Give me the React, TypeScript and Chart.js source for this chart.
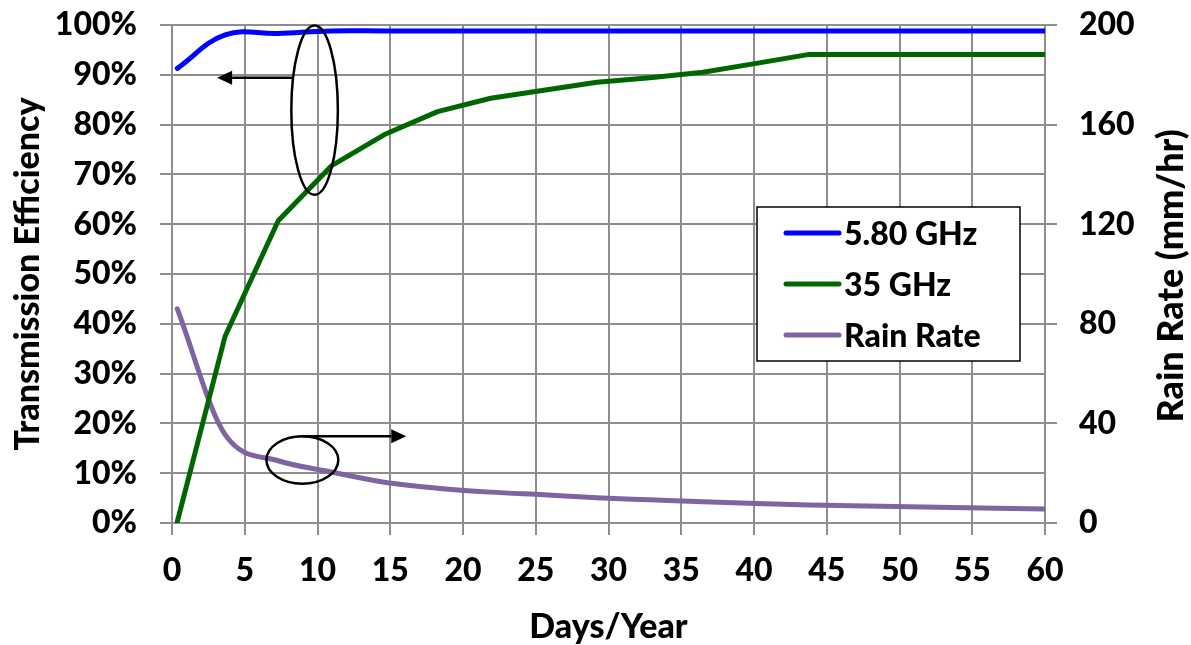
import React, { useEffect, useRef } from 'react';
import { Chart, registerables } from 'chart.js';

Chart.register(...registerables);

// ---- data (days per year of exceedance) ----
const daysPerYear = [0.365, 3.65, 7.3, 10.95, 14.6, 18.25, 21.9, 25.55, 29.2, 32.85, 36.5, 40.15, 43.8, 60];
const eff580GHz = [91.3, 98.0, 98.3, 98.8, 98.8, 98.8, 98.8, 98.8, 98.8, 98.8, 98.8, 98.8, 98.8, 98.8];
const eff35GHz = [0.3, 37.5, 60.7, 71.7, 78.0, 82.6, 85.3, 86.9, 88.5, 89.4, 90.5, 92.3, 94.1, 94.1];
const rainRate = [86, 35.5, 25, 20.5, 16.4, 14.0, 12.4, 11.3, 10.1, 9.3, 8.5, 7.8, 7.25, 5.6];

const xTickValues = [0, 5, 10, 15, 20, 25, 30, 35, 40, 45, 50, 55, 60];
const leftTickValues = [0, 10, 20, 30, 40, 50, 60, 70, 80, 90, 100];
const rightTickValues = [0, 40, 80, 120, 160, 200];

const seriesLabels = ['5.80 GHz', '35 GHz', 'Rain Rate'];
const seriesColors = ['#0000FF', '#006600', '#8064A2'];
const rightAxisTitle = 'Rain Rate (mm/hr)';

// annotation shapes in data units (x: days, y: % on left axis)
const ellipses = [
  { cx: 9.8, cy: 82.9, rx: 1.6, ry: 17 },
  { cx: 8.96, cy: 12.65, rx: 2.47, ry: 4.76 },
];
const arrows = [
  { x1: 8.3, y1: 89.4, x2: 3.1, y2: 89.4 },
  { x1: 8.96, y1: 17.4, x2: 16.1, y2: 17.4 },
];

const FONT = 'Lato, "Open Sans", sans-serif';
const WEIGHT = 900;
const GRID = '#8e8e8e';

const annotationPlugin = {
  id: 'annotShapes',
  afterDatasetsDraw(chart: any) {
    const { ctx } = chart;
    const x = chart.scales.x;
    const y = chart.scales.y;
    ctx.save();
    ctx.strokeStyle = '#000';
    ctx.fillStyle = '#000';
    ctx.lineWidth = 2.5;
    ellipses.forEach((e) => {
      const cx = x.getPixelForValue(e.cx);
      const cy = y.getPixelForValue(e.cy);
      const rx = Math.abs(x.getPixelForValue(e.cx + e.rx) - cx);
      const ry = Math.abs(y.getPixelForValue(e.cy + e.ry) - cy);
      ctx.beginPath();
      ctx.ellipse(cx, cy, rx, ry, 0, 0, Math.PI * 2);
      ctx.stroke();
    });
    arrows.forEach((a) => {
      const x1 = x.getPixelForValue(a.x1);
      const y1 = y.getPixelForValue(a.y1);
      const x2 = x.getPixelForValue(a.x2);
      const y2 = y.getPixelForValue(a.y2);
      const ang = Math.atan2(y2 - y1, x2 - x1);
      const hl = 15;
      const hw = 7;
      const bx = x2 - Math.cos(ang) * hl;
      const by = y2 - Math.sin(ang) * hl;
      ctx.beginPath();
      ctx.moveTo(x1, y1);
      ctx.lineTo(bx, by);
      ctx.stroke();
      ctx.beginPath();
      ctx.moveTo(x2, y2);
      ctx.lineTo(bx - Math.sin(ang) * hw, by + Math.cos(ang) * hw);
      ctx.lineTo(bx + Math.sin(ang) * hw, by - Math.cos(ang) * hw);
      ctx.closePath();
      ctx.fill();
    });
    ctx.restore();
  },
};

const boxLegendPlugin = {
  id: 'boxLegend',
  afterDraw(chart: any) {
    const { ctx, chartArea } = chart;
    const left = chartArea.left + 585;
    const top = chartArea.top + 182;
    const w = 263;
    const h = 154;
    ctx.save();
    ctx.fillStyle = '#fff';
    ctx.fillRect(left, top, w, h);
    ctx.strokeStyle = '#000';
    ctx.lineWidth = 1.5;
    ctx.strokeRect(left, top, w, h);
    ctx.font = `${WEIGHT} 32px ${FONT}`;
    ctx.textBaseline = 'middle';
    ctx.textAlign = 'left';
    chart.data.datasets.forEach((ds: any, i: number) => {
      const yy = top + 26 + i * 51;
      ctx.strokeStyle = ds.borderColor;
      ctx.lineWidth = 5;
      ctx.lineCap = 'round';
      ctx.beginPath();
      ctx.moveTo(left + 29, yy);
      ctx.lineTo(left + 82, yy);
      ctx.stroke();
      ctx.fillStyle = '#000';
      ctx.fillText(ds.label, left + 87, yy + 2);
    });
    // right axis title, reading bottom-to-top like the left one
    ctx.translate(chart.width - 20, (chartArea.top + chartArea.bottom) / 2 + 2);
    ctx.rotate(-Math.PI / 2);
    ctx.font = `${WEIGHT} 36px ${FONT}`;
    ctx.textAlign = 'center';
    ctx.fillStyle = '#000';
    ctx.fillText(rightAxisTitle, 0, 0);
    ctx.restore();
  },
};

export default function App() {
  const ref = useRef<HTMLCanvasElement | null>(null);
  useEffect(() => {
    if (!ref.current) return;
    const tickFont = { family: FONT, weight: WEIGHT as any, size: 32, lineHeight: 1.2 };
    const titleFont = { family: FONT, weight: WEIGHT as any, size: 34, lineHeight: 1 };
    const series = [eff580GHz, eff35GHz, rainRate];
    const chart = new Chart(ref.current, {
      type: 'line',
      data: {
        datasets: series.map((vals, i) => ({
          label: seriesLabels[i],
          data: daysPerYear.map((d, j) => ({ x: d, y: vals[j] })),
          borderColor: seriesColors[i],
          backgroundColor: seriesColors[i],
          borderWidth: 5,
          pointRadius: 0,
          fill: false,
          borderCapStyle: 'round' as const,
          borderJoinStyle: 'round' as const,
          tension: i === 1 ? 0 : 0.4,
          cubicInterpolationMode: i === 2 ? ('monotone' as const) : ('default' as const),
          yAxisID: i === 2 ? 'y1' : 'y',
        })),
      },
      options: {
        responsive: false,
        animation: false,
        devicePixelRatio: 1,
        layout: { padding: { top: 25, left: 0, right: 0, bottom: 0 } },
        plugins: { legend: { display: false }, tooltip: { enabled: false } },
        scales: {
          x: {
            type: 'linear',
            min: 0,
            max: 60,
            afterBuildTicks: (s: any) => {
              s.ticks = xTickValues.map((v) => ({ value: v }));
            },
            afterFit: (s: any) => {
              s.height = 122;
              s.paddingLeft = 0;
              s.paddingRight = 0;
            },
            grid: { color: GRID, lineWidth: 2, drawTicks: true, tickLength: 12 },
            border: { color: GRID, width: 2 },
            ticks: { font: tickFont, color: '#000', padding: 16, maxRotation: 0, autoSkip: false },
            title: {
              display: true,
              text: 'Days/Year',
              color: '#000',
              font: titleFont,
              padding: { top: 0, bottom: 1 },
            },
          },
          y: {
            type: 'linear',
            position: 'left',
            min: 0,
            max: 100,
            afterBuildTicks: (s: any) => {
              s.ticks = leftTickValues.map((v) => ({ value: v }));
            },
            afterFit: (s: any) => {
              s.width = 172;
              s.paddingTop = 0;
              s.paddingBottom = 0;
            },
            grid: { color: GRID, lineWidth: 2, drawTicks: true, tickLength: 12 },
            border: { color: GRID, width: 2 },
            ticks: { font: tickFont, color: '#000', padding: 23, callback: (v: any) => `${v}%` },
            title: {
              display: true,
              text: 'Transmission Efficiency',
              color: '#000',
              font: titleFont,
              padding: { top: 11, bottom: 0 },
            },
          },
          y1: {
            type: 'linear',
            position: 'right',
            min: 0,
            max: 200,
            afterBuildTicks: (s: any) => {
              s.ticks = rightTickValues.map((v) => ({ value: v }));
            },
            afterFit: (s: any) => {
              s.width = 146;
              s.paddingTop = 0;
              s.paddingBottom = 0;
            },
            grid: { color: GRID, lineWidth: 2, drawOnChartArea: false, drawTicks: true, tickLength: 12 },
            border: { color: GRID, width: 2 },
            ticks: { font: tickFont, color: '#000', padding: 22 },
            title: { display: false },
          },
        },
      },
      plugins: [annotationPlugin, boxLegendPlugin],
    } as any);
    return () => chart.destroy();
  }, []);
  return (
    <div style={{ position: 'absolute', left: 0, top: 0, width: 1191, height: 645, background: '#fff' }}>
      <canvas ref={ref} width={1191} height={645} style={{ display: 'block' }} />
    </div>
  );
}
